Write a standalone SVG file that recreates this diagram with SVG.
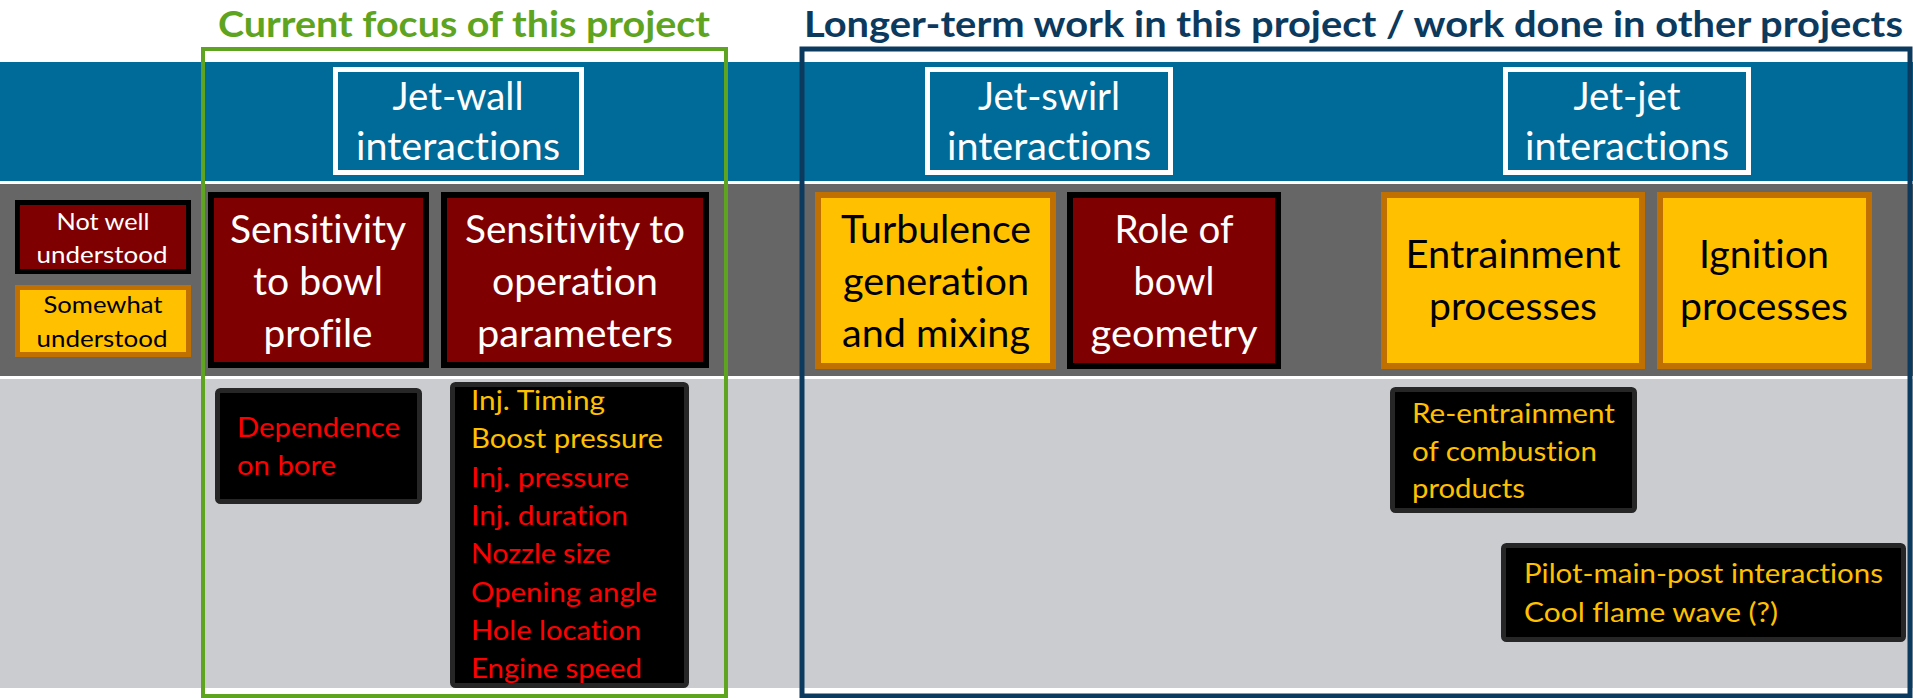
<svg xmlns="http://www.w3.org/2000/svg" width="1913" height="698" viewBox="0 0 1913 698">
<style>
text{font-family:Lato,"Open Sans","Liberation Sans",sans-serif;font-variant-ligatures:none;font-feature-settings:"liga" 0,"clig" 0,"calt" 0,"dlig" 0}
.hdr{fill:#006A99;stroke:#ffffff;stroke-width:5}
.red{fill:#7F0000;stroke:#000000;stroke-width:6}
.yel{fill:#FFC000;stroke:#C07000;stroke-width:6}
.blk{fill:#000000;stroke:#262626;stroke-width:5}
.ht{fill:#ffffff;font-size:39px;text-anchor:middle}
.wt{fill:#ffffff;font-size:39px;text-anchor:middle}
.bt{fill:#000000;font-size:39px;text-anchor:middle}
.lt{font-size:27px}
.r{fill:#FF0000}
.y{fill:#FFC000}
.title{font-size:36px;font-weight:bold}
</style>
<rect x="0" y="0" width="1913" height="698" fill="#ffffff"/>
<rect x="0" y="62" width="1913" height="119" fill="#006A99"/>
<rect x="0" y="184" width="1913" height="192" fill="#666666"/>
<rect x="0" y="379" width="1913" height="309" fill="#CBCCD0"/>

<g id="legend-not-well">
<rect x="17.5" y="202.5" width="171" height="69" fill="#7F0000" stroke="#000" stroke-width="5"/>
<text x="103" y="230" fill="#fff" font-size="23" text-anchor="middle" textLength="93" lengthAdjust="spacingAndGlyphs">Not well</text>
<text x="102" y="263" fill="#fff" font-size="23" text-anchor="middle" textLength="131" lengthAdjust="spacingAndGlyphs">understood</text>
</g>
<g id="legend-somewhat">
<rect x="17.5" y="287.5" width="171" height="67" fill="#FFC000" stroke="#C07000" stroke-width="5"/>
<text x="103" y="313" fill="#000" font-size="23" text-anchor="middle" textLength="119" lengthAdjust="spacingAndGlyphs">Somewhat</text>
<text x="102" y="347" fill="#000" font-size="23" text-anchor="middle" textLength="131" lengthAdjust="spacingAndGlyphs">understood</text>
</g>

<g id="jet-wall">
<rect class="hdr" x="335.5" y="69.5" width="246" height="103"/>
<text class="ht" x="458" y="110" textLength="131" lengthAdjust="spacingAndGlyphs">Jet-wall</text>
<text class="ht" x="458" y="160" textLength="204" lengthAdjust="spacingAndGlyphs">interactions</text>
</g>
<g id="jet-swirl">
<rect class="hdr" x="927.5" y="69.5" width="243" height="103"/>
<text class="ht" x="1049" y="110" textLength="142" lengthAdjust="spacingAndGlyphs">Jet-swirl</text>
<text class="ht" x="1049" y="160" textLength="204" lengthAdjust="spacingAndGlyphs">interactions</text>
</g>
<g id="jet-jet">
<rect class="hdr" x="1505.5" y="69.5" width="243" height="103"/>
<text class="ht" x="1627" y="110" textLength="107" lengthAdjust="spacingAndGlyphs">Jet-jet</text>
<text class="ht" x="1627" y="160" textLength="204" lengthAdjust="spacingAndGlyphs">interactions</text>
</g>

<g id="sens-bowl">
<rect class="red" x="211" y="195" width="215" height="170"/>
<text class="wt" x="318" y="243" textLength="176" lengthAdjust="spacingAndGlyphs">Sensitivity</text>
<text class="wt" x="318" y="295" textLength="130" lengthAdjust="spacingAndGlyphs">to bowl</text>
<text class="wt" x="318" y="347" textLength="109" lengthAdjust="spacingAndGlyphs">profile</text>
</g>
<g id="sens-op">
<rect class="red" x="444" y="195" width="262" height="170"/>
<text class="wt" x="575" y="243" textLength="220" lengthAdjust="spacingAndGlyphs">Sensitivity to</text>
<text class="wt" x="575" y="295" textLength="166" lengthAdjust="spacingAndGlyphs">operation</text>
<text class="wt" x="575" y="347" textLength="196" lengthAdjust="spacingAndGlyphs">parameters</text>
</g>
<g id="turbulence">
<rect class="yel" x="818" y="195" width="235" height="171"/>
<text class="bt" x="936" y="243" textLength="190" lengthAdjust="spacingAndGlyphs">Turbulence</text>
<text class="bt" x="936" y="295" textLength="186" lengthAdjust="spacingAndGlyphs">generation</text>
<text class="bt" x="936" y="347" textLength="188" lengthAdjust="spacingAndGlyphs">and mixing</text>
</g>
<g id="role-bowl">
<rect class="red" x="1070" y="195" width="208" height="171"/>
<text class="wt" x="1174" y="243" textLength="119" lengthAdjust="spacingAndGlyphs">Role of</text>
<text class="wt" x="1174" y="295" textLength="81" lengthAdjust="spacingAndGlyphs">bowl</text>
<text class="wt" x="1174" y="347" textLength="167" lengthAdjust="spacingAndGlyphs">geometry</text>
</g>
<g id="entrainment">
<rect class="yel" x="1384" y="195" width="258" height="171"/>
<text class="bt" x="1513" y="268" textLength="215" lengthAdjust="spacingAndGlyphs">Entrainment</text>
<text class="bt" x="1513" y="320" textLength="168" lengthAdjust="spacingAndGlyphs">processes</text>
</g>
<g id="ignition">
<rect class="yel" x="1660" y="195" width="209" height="171"/>
<text class="bt" x="1764" y="268" textLength="130" lengthAdjust="spacingAndGlyphs">Ignition</text>
<text class="bt" x="1764" y="320" textLength="168" lengthAdjust="spacingAndGlyphs">processes</text>
</g>

<g id="dependence">
<rect class="blk" x="217.5" y="390.5" width="202" height="111" rx="3"/>
<text class="lt r" x="237" y="437" textLength="163" lengthAdjust="spacingAndGlyphs">Dependence</text>
<text class="lt r" x="237" y="475" textLength="99" lengthAdjust="spacingAndGlyphs">on bore</text>
</g>
<g id="parameters">
<rect class="blk" x="452.5" y="384.5" width="234" height="301" rx="3"/>
<text class="lt y" x="471" y="410" textLength="134" lengthAdjust="spacingAndGlyphs">Inj. Timing</text>
<text class="lt y" x="471" y="448" textLength="192" lengthAdjust="spacingAndGlyphs">Boost pressure</text>
<text class="lt r" x="471" y="487" textLength="158" lengthAdjust="spacingAndGlyphs">Inj. pressure</text>
<text class="lt r" x="471" y="525" textLength="157" lengthAdjust="spacingAndGlyphs">Inj. duration</text>
<text class="lt r" x="471" y="563" textLength="139" lengthAdjust="spacingAndGlyphs">Nozzle size</text>
<text class="lt r" x="471" y="602" textLength="186" lengthAdjust="spacingAndGlyphs">Opening angle</text>
<text class="lt r" x="471" y="640" textLength="170" lengthAdjust="spacingAndGlyphs">Hole location</text>
<text class="lt r" x="471" y="678" textLength="171" lengthAdjust="spacingAndGlyphs">Engine speed</text>
</g>
<g id="reentrainment">
<rect class="blk" x="1392.5" y="389.5" width="242" height="121" rx="3"/>
<text class="lt y" x="1412" y="423" textLength="203" lengthAdjust="spacingAndGlyphs">Re-entrainment</text>
<text class="lt y" x="1412" y="461" textLength="185" lengthAdjust="spacingAndGlyphs">of combustion</text>
<text class="lt y" x="1412" y="498" textLength="113" lengthAdjust="spacingAndGlyphs">products</text>
</g>
<g id="pilot">
<rect class="blk" x="1503.5" y="545.5" width="400" height="94" rx="3"/>
<text class="lt y" x="1524" y="583" textLength="359" lengthAdjust="spacingAndGlyphs">Pilot-main-post interactions</text>
<text class="lt y" x="1524" y="622" textLength="254" lengthAdjust="spacingAndGlyphs">Cool flame wave (?)</text>
</g>

<g id="current-focus">
<rect x="203" y="49" width="523" height="647" fill="none" stroke="#5EA420" stroke-width="4"/>
<text class="title" x="218" y="37" fill="#5EA420" textLength="492" lengthAdjust="spacingAndGlyphs">Current focus of this project</text>
</g>
<g id="longer-term">
<rect x="802" y="49" width="1108" height="647" fill="none" stroke="#0C3A5E" stroke-width="5"/>
<text class="title" x="804" y="37" fill="#0C3A5E" textLength="1099" lengthAdjust="spacingAndGlyphs">Longer-term work in this project / work done in other projects</text>
</g>
<g id="connectors"></g>
</svg>
